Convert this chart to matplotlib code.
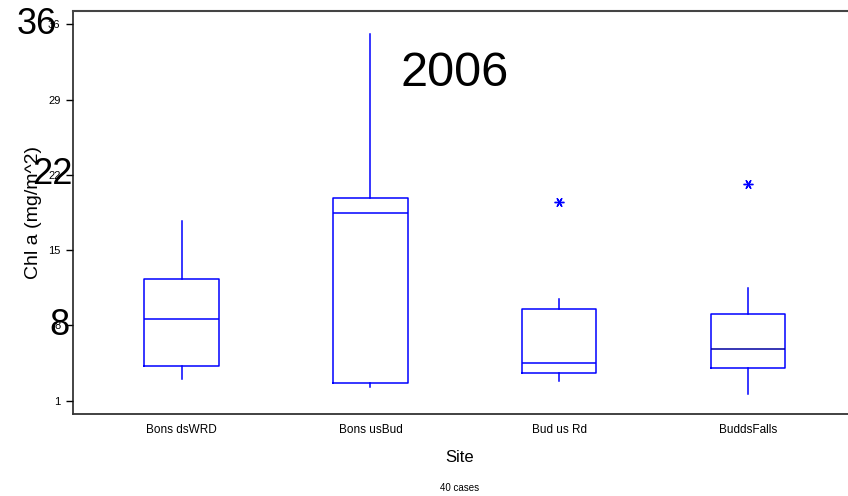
import matplotlib
matplotlib.use("Agg")
import matplotlib.pyplot as plt
import matplotlib.transforms as mtransforms

plt.rcParams['font.family'] = ['Liberation Sans', 'DejaVu Sans']

sites = ["Bons dsWRD", "Bons usBud", "Bud us Rd", "BuddsFalls"]
whislo = [3.0, 2.3, 2.86, 1.6]
q1 = [4.23, 2.62, 3.58, 4.04]
med = [8.57, 18.48, 4.48, 5.78]
q3 = [12.31, 19.87, 9.5, 9.03]
whishi = [17.73, 35.06, 10.45, 11.45]
outliers = [[], [], [19.44], [21.17]]

yticks = [1, 8, 15, 22, 29, 36]
big_labels = ["36", "22", "8"]
big_values = [36, 22, 8]
big_xpos = [0.0672, 0.0857, 0.0825]

fig = plt.figure(figsize=(8.48, 4.96), dpi=100)
ax = fig.add_axes([0.0861, 0.1653, 0.9139, 0.8131])

stats = []
for i in range(len(sites)):
    stats.append(dict(label=sites[i], whislo=whislo[i], q1=q1[i], med=med[i],
                      q3=q3[i], whishi=whishi[i], fliers=outliers[i]))

pos = list(range(1, len(sites) + 1))
bp = ax.bxp(stats, positions=pos, widths=0.395, showcaps=False,
            boxprops=dict(color='#0000ff', linewidth=1.1),
            whiskerprops=dict(color='#0000ff', linewidth=1.1),
            medianprops=dict(color='#0000ff', linewidth=1.1),
            flierprops=dict(marker=(6, 2, 90), markeredgecolor='#0000ff',
                            markerfacecolor='#0000ff', markersize=7,
                            markeredgewidth=1.0, linestyle='none'))
bp['medians'][3].set_color('#0000a0')

ax.set_xlim(0.424, 4.53)
ax.set_ylim(-0.236, 37.26)
ax.set_yticks(yticks)
ax.set_yticklabels([str(t) for t in yticks], fontsize=8)
ax.set_xticks(pos)
ax.set_xticklabels(sites, fontsize=8.5)
ax.tick_params(axis='x', length=0, pad=7)
ax.tick_params(axis='y', length=5, width=1, pad=4, direction='out')

ax.spines['right'].set_visible(False)
ax.spines['top'].set_color('#444444')
ax.spines['top'].set_linewidth(1.5)
ax.spines['bottom'].set_color('#333333')
ax.spines['bottom'].set_linewidth(1.3)
ax.spines['left'].set_color('#111111')
ax.spines['left'].set_linewidth(1.1)

ax.set_ylabel("Chl a (mg/m^2)", fontsize=14)
ax.yaxis.set_label_coords(-0.0404, 0.5)
fig.text(0.542, 1 - 458 / 496, "Site", fontsize=12, ha='center', va='center')
fig.text(0.542, 1 - 488 / 496, "40 cases", fontsize=7, ha='center', va='center')

ax.text(455 / 848, 1 - 74 / 496, "2006", fontsize=35, ha='center', va='center',
        transform=fig.transFigure)

# large duplicate labels drawn over the y tick labels, as in the original
trans = mtransforms.blended_transform_factory(fig.transFigure, ax.transData)
for lab, val, xp in zip(big_labels, big_values, big_xpos):
    ax.text(xp, val, lab, fontsize=26, ha='right', va='center', transform=trans,
            clip_on=False)

fig.savefig("out.png", dpi=100)
